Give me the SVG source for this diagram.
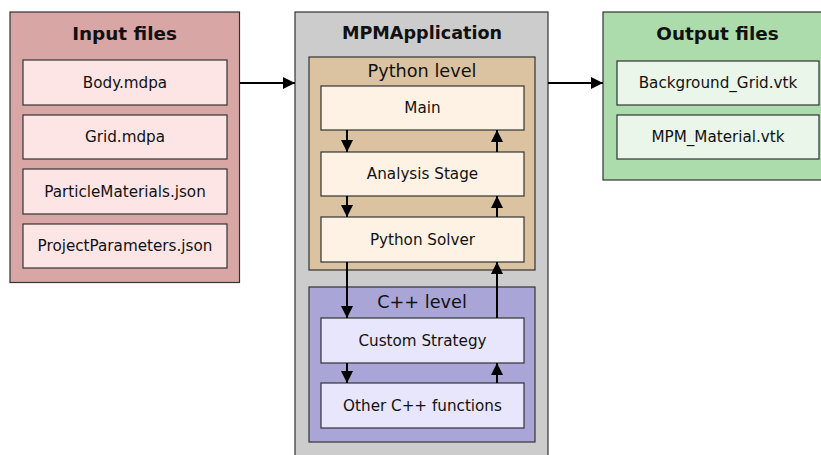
<svg xmlns="http://www.w3.org/2000/svg" width="821" height="455" viewBox="0 0 821 455">
  <style>
    text { font-family: "DejaVu Sans", Verdana, sans-serif; fill: #111; text-anchor: middle; dominant-baseline: central; }
    .title { font-size: 18.4px; font-weight: bold; }
    .level { font-size: 17.7px; }
    .item { font-size: 15.2px; }
    .box { stroke: #333; stroke-width: 1.2; }
    .wire { stroke: #000; stroke-width: 2; fill: none; }
  </style>
  <defs>
    <marker id="tri" viewBox="0 0 10 10" refX="10" refY="5" markerWidth="6" markerHeight="6" orient="auto">
      <path d="M0,0 L10,5 L0,10 Z" fill="#000"/>
    </marker>
  </defs>
  <rect width="821" height="455" fill="#fff"/>

  <!-- Input files -->
  <g id="input-files">
    <rect class="box" x="10" y="12" width="229.5" height="270.5" fill="#d9a6a6"/>
    <text class="title" x="124.5" y="33.5">Input files</text>
    <rect class="box" x="23" y="60" width="204" height="45" fill="#fde5e5"/>
    <text class="item" x="125" y="82.5">Body.mdpa</text>
    <rect class="box" x="23" y="115" width="204" height="44" fill="#fde5e5"/>
    <text class="item" x="125" y="137">Grid.mdpa</text>
    <rect class="box" x="23" y="169" width="204" height="45" fill="#fde5e5"/>
    <text class="item" x="125" y="191.5">ParticleMaterials.json</text>
    <rect class="box" x="23" y="224" width="204" height="44" fill="#fde5e5"/>
    <text class="item" x="125" y="246">ProjectParameters.json</text>
  </g>

  <!-- MPMApplication -->
  <g id="mpm-application">
    <rect class="box" x="295" y="12" width="253" height="450" fill="#cccccc"/>
    <text class="title" x="422" y="33" style="font-size:17.6px">MPMApplication</text>
  </g>

  <!-- Python level -->
  <g id="python-level">
    <rect class="box" x="309" y="57" width="226" height="213" fill="#dbc3a1"/>
    <text class="level" x="422" y="70.5">Python level</text>
  </g>
  <g id="main">
    <rect class="box" x="321" y="86" width="203" height="44" fill="#fdf2e3"/>
    <text class="item" x="422.5" y="108">Main</text>
  </g>
  <g id="analysis-stage">
    <rect class="box" x="321" y="152" width="203" height="44" fill="#fdf2e3"/>
    <text class="item" x="422.5" y="174">Analysis Stage</text>
  </g>
  <g id="python-solver">
    <rect class="box" x="321" y="217" width="203" height="45" fill="#fdf2e3"/>
    <text class="item" x="422.5" y="239.5">Python Solver</text>
  </g>

  <!-- C++ level -->
  <g id="cpp-level">
    <rect class="box" x="309" y="287" width="226" height="155" fill="#a9a5d7"/>
    <text class="level" x="422" y="302">C++ level</text>
  </g>
  <g id="custom-strategy">
    <rect class="box" x="321" y="318" width="203" height="45" fill="#e8e6fc"/>
    <text class="item" x="422.5" y="340.5">Custom Strategy</text>
  </g>
  <g id="other-cpp">
    <rect class="box" x="321" y="383" width="203" height="45" fill="#e8e6fc"/>
    <text class="item" x="422.5" y="405.5">Other C++ functions</text>
  </g>

  <!-- Output files -->
  <g id="output-files">
    <rect class="box" x="603" y="12" width="225" height="168" fill="#acdcab"/>
    <text class="title" x="717.5" y="33.5">Output files</text>
    <rect class="box" x="617" y="61" width="202" height="44" fill="#eaf6ea"/>
    <text class="item" x="718" y="83">Background_Grid.vtk</text>
    <rect class="box" x="617" y="115" width="202" height="44" fill="#eaf6ea"/>
    <text class="item" x="718" y="137">MPM_Material.vtk</text>
  </g>

  <!-- Connectors -->
  <g id="connectors">
    <line class="wire" x1="240" y1="83" x2="295" y2="83" marker-end="url(#tri)"/>
    <line class="wire" x1="548" y1="83" x2="603" y2="83" marker-end="url(#tri)"/>
    <line class="wire" x1="347" y1="130" x2="347" y2="152" marker-end="url(#tri)"/>
    <line class="wire" x1="497" y1="152" x2="497" y2="130" marker-end="url(#tri)"/>
    <line class="wire" x1="347" y1="196" x2="347" y2="217" marker-end="url(#tri)"/>
    <line class="wire" x1="497" y1="217" x2="497" y2="196" marker-end="url(#tri)"/>
    <line class="wire" x1="347" y1="262" x2="347" y2="318" marker-end="url(#tri)"/>
    <line class="wire" x1="497" y1="318" x2="497" y2="262" marker-end="url(#tri)"/>
    <line class="wire" x1="347" y1="363" x2="347" y2="383" marker-end="url(#tri)"/>
    <line class="wire" x1="497" y1="383" x2="497" y2="363" marker-end="url(#tri)"/>
  </g>
</svg>
